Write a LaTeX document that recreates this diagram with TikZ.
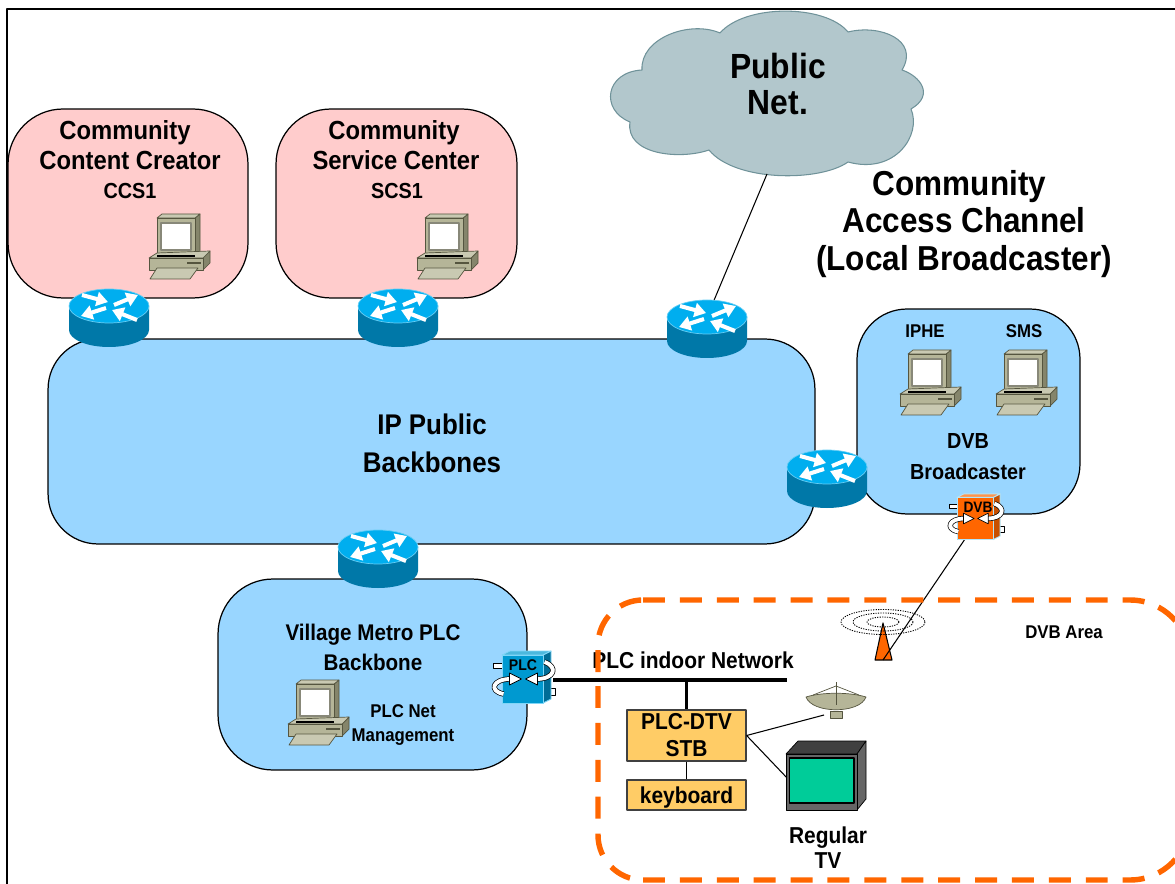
\documentclass[tikz,border=0pt]{standalone}
\usepackage{fontspec}
\setmainfont[FakeStretch=0.91]{Liberation Sans}
\usetikzlibrary{arrows.meta}
\definecolor{pinkblob}{HTML}{FFCCCC}
\definecolor{blueblob}{HTML}{99D6FF}
\definecolor{cloudgrey}{HTML}{B2C7CC}
\definecolor{cloudline}{HTML}{6F9299}
\definecolor{routertop}{HTML}{00AEEF}
\definecolor{routerside}{HTML}{0078A8}
\definecolor{pcbody}{HTML}{B5B598}
\definecolor{pcdark}{HTML}{85856B}
\definecolor{pclight}{HTML}{C9C9B2}
\definecolor{pcline}{HTML}{55553F}
\definecolor{dvborange}{HTML}{FF6600}
\definecolor{dvbside}{HTML}{C85000}
\definecolor{plcblue}{HTML}{0099D0}
\definecolor{plcside}{HTML}{006C96}
\definecolor{stbfill}{HTML}{FFCC66}
\definecolor{tvgreen}{HTML}{00CC99}
\tikzset{
	lbl/.style 2 args={font=\fontsize{#1}{#2}\selectfont\bfseries,align=center,inner sep=0pt},
	blob/.style={draw=black,line width=0.7pt,inner sep=0pt},
	stbbox/.style={draw=black!75,fill=stbfill,line width=0.7pt,minimum width=2.38cm,inner sep=0pt},
	areadash/.style={dvborange,line width=3.1pt,dash pattern=on 12.5pt off 8.5pt},
	pics/router/.style={code={
		\fill[routerside] (-40,0)--(-40,24) arc[start angle=180,end angle=0,x radius=40,y radius=17]--(40,0)--cycle;
		\draw[fill=routertop,draw=routertop!60!white,line width=0.4pt] (0,0) ellipse [x radius=40,y radius=17];
		\foreach \xa/\ya/\xb/\yb in {-27/-11/-1/-4,5/-1/29/-11,-3/2/-28/10,28/14/3/4}
			\draw[white,line width=2.3pt,-{Triangle[width=8pt,length=6.5pt]}] (\xa,\ya)--(\xb,\yb);
	}},
	pics/computer/.style={code={
		\draw[pcline,fill=pcdark,line width=0.4pt] (38,0)--(43,-4)--(43,34)--(38,37)--cycle;
		\draw[pcline,fill=pclight,line width=0.4pt] (0,0)--(5,-4)--(43,-4)--(38,0)--cycle;
		\draw[pcline,fill=pcbody,line width=0.4pt] (0,0) rectangle (38,37);
		\draw[pcline!70,fill=white,line width=0.6pt] (4,5) rectangle (34,32);
		\draw[pcline,fill=pcdark,line width=0.4pt] (46,40)--(53,33)--(53,45)--(46,52)--cycle;
		\draw[pcline,fill=pclight,line width=0.4pt] (-8,40)--(0,35)--(53,33)--(46,40)--cycle;
		\draw[black,line width=0.8pt] (0,38)--(38,38);
		\draw[pcline,fill=pcbody,line width=0.4pt] (-8,40) rectangle (46,52);
		\draw[pcline,line width=0.6pt] (30,45)--(44,45);
		\draw[pcline,fill=pclight,line width=0.4pt] (0,50)--(41,50)--(33,61)--(-7,61)--cycle;
	}},
	pics/switchbox/.style n args={3}{code={
		\draw[black,fill=white,line width=0.4pt] (-29,-16) rectangle (-20,-11);
		\draw[black,fill=white,line width=0.4pt] (28,9) rectangle (33,16);
		\draw[#3,fill=#2,line width=0.5pt] (20.5,-24)--(28.5,-28)--(28.5,20)--(20.5,24)--cycle;
		\draw[#3,fill=#1!70!white,line width=0.5pt] (-20.5,-24)--(-12.5,-28)--(28.5,-28)--(20.5,-24)--cycle;
		\draw[#3,fill=#1,line width=0.5pt] (-20.5,-24) rectangle (20.5,24);
		\draw[double=white,double distance=2.2pt,line width=0.4pt] (-12,0) .. controls (-30,0) and (-34,12) .. (-19,15);
		\draw[double=white,double distance=2.2pt,line width=0.4pt] (14,0) .. controls (32,0) and (36,-12) .. (22,-17);
		\draw[black,fill=white,line width=0.4pt] (-1,0)--(-13,-6)--(-13,6)--cycle;
		\draw[black,fill=white,line width=0.4pt] (3,0)--(15,-6)--(15,6)--cycle;
	}},
}
\begin{document}
\begin{tikzpicture}[x=0.02cm,y=-0.02cm,line join=round]
	\useasboundingbox (0,0) rectangle (1175,884);
	% frame
	\draw[line width=0.9pt] (7,884)--(7,9)--(1175,9);
	% cloud
	\draw[cloudline,fill=cloudgrey,line width=0.6pt] (642,70) .. controls (640,38) and (690,20) .. (720,33)
		.. controls (745,4) and (825,4) .. (848,32)
		.. controls (880,24) and (920,40) .. (902,70)
		.. controls (920,76) and (935,95) .. (911,109)
		.. controls (922,135) and (895,175) .. (848,162)
		.. controls (820,182) and (735,182) .. (709,150)
		.. controls (680,160) and (625,155) .. (630,122)
		.. controls (600,110) and (605,72) .. (642,70) -- cycle;
	\node[lbl={19.9}{21}] (pubnet) at (778,84) {Public\\Net.};
	\coordinate (cloudfoot) at (767,174);
	% blobs
	\node[blob,fill=pinkblob,rounded corners=1.1cm,minimum width=4.8cm,minimum height=3.78cm] (ccc) at (128,203.5) {};
	\node[blob,fill=pinkblob,rounded corners=1.1cm,minimum width=4.82cm,minimum height=3.78cm] (scc) at (396.5,203.5) {};
	\node[blob,fill=blueblob,rounded corners=1cm,minimum width=15.34cm,minimum height=4.1cm] (backbone) at (431.5,441.5) {};
	\node[blob,fill=blueblob,rounded corners=1cm,minimum width=4.46cm,minimum height=4.1cm] (dvbcast) at (968.5,411.5) {};
	\node[blob,fill=blueblob,rounded corners=1.1cm,minimum width=6.18cm,minimum height=3.82cm] (village) at (372.5,674.5) {};
	% routers
	\coordinate (rpub) at (707,317);
	\draw[line width=0.6pt] (cloudfoot)--(rpub);
	\pic at (109,306) {router};
	\pic at (398,306) {router};
	\pic at (707,317) {router};
	\pic at (827,467) {router};
	\pic at (378,547) {router};
	% computers
	\pic at (157,218) {computer};
	\pic at (425,218) {computer};
	\pic at (908,354) {computer};
	\pic at (1004,354) {computer};
	\pic at (296,684) {computer};
	% texts
	\node[lbl={14.9}{17}] (ccctxt) at (130,145) {\hspace*{-5.7pt}Community\\Content Creator};
	\node[lbl={12.4}{14}] (ccs) at (130,191) {CCS1};
	\node[lbl={14.9}{17}] (scctxt) at (396,145) {\hspace*{-2.3pt}Community\\Service Center};
	\node[lbl={12.4}{14}] (scs) at (397,191) {SCS1};
	\node[lbl={19.7}{21.5}] (acc) at (964,224) {\hspace*{-5.1pt}Community\\Access Channel\\(Local Broadcaster)};
	\node[lbl={16.2}{21.5}] (ippub) at (432,443) {IP Public\\Backbones};
	\node[lbl={10.5}{12}] (iphe) at (925,331) {IPHE};
	\node[lbl={10.5}{12}] (sms) at (1024,331) {SMS};
	\node[lbl={12.4}{17.6}] (dvbtxt) at (968,457) {DVB\\Broadcaster};
	\node[lbl={12.9}{17}] (vill) at (373,647) {Village Metro PLC\\Backbone};
	\node[lbl={10.5}{14.2}] (plcnet) at (403,725) {PLC Net\\Management};
	\node[lbl={10.5}{12}] (dvbarea) at (1064,632) {DVB Area};
	\node[lbl={13.1}{14}] (indoor) at (693,660) {PLC indoor Network};
	\node[lbl={13.1}{14.2}] (regtv) at (828,848) {Regular\\TV};
	% antenna and link
	\draw[black,fill=dvborange,line width=0.6pt] (883,623)--(892,660)--(875,660)--cycle;
	\foreach \rx/\ry in {42/12.5,30/9,16/5}
		\draw[line width=0.5pt,dash pattern=on 0.7pt off 0.7pt] (883,622) ellipse [x radius=\rx,y radius=\ry];
	\coordinate (antfoot) at (883,660);
	\coordinate (dvbfoot) at (965,539);
	\draw[line width=0.6pt] (dvbfoot)--(antfoot);
	% switches
	\pic[scale=0.88] at (975,518.5) {switchbox={dvborange}{dvbside}{cyan!30}};
	\node[lbl={8.6}{9}] (dvblab) at (978,507) {DVB};
	\pic at (522.5,679) {switchbox={plcblue}{plcside}{cyan!50}};
	\node[lbl={8.8}{9}] (plclab) at (523,665) {PLC};
	% home network
	\node[stbbox,minimum height=1.02cm,lbl={13.1}{15.3}] (stb) at (686.5,735.5) {PLC-DTV\\STB};
	\node[stbbox,minimum height=0.6cm,lbl={13.1}{14}] (kbd) at (686.5,795) {\raisebox{-1.6pt}[\height][\depth]{keyboard}};
	\draw[line width=0.5pt] (stb)--(kbd);
	\coordinate (busl) at (553,680);
	\coordinate (busr) at (787,680);
	\coordinate (busdrop) at (686.5,680);
	\draw[line width=2.2pt] (busl)--(busr);
	\draw[line width=2.2pt] (busdrop)--(stb.north);
	% dish
	\coordinate (dishin) at (824,715);
	\coordinate (tvin) at (789,780);
	\draw[line width=0.6pt] (stb.east)--(dishin);
	\draw[line width=0.6pt] (stb.east)--(tvin);
	\draw[pcline,fill=pcbody,line width=0.4pt] (830,711) rectangle (842,718);
	\draw[pcline,fill=pcbody,line width=0.4pt] (806,697) .. controls (812,714) and (860,714) .. (866,697) .. controls (850,692) and (822,692) .. (806,697) -- cycle;
	\draw[pcline,line width=0.5pt] (836,682)--(836,705);
	\draw[pcline,line width=0.4pt] (813,695)--(836,686)--(859,695);
	% tv
	\draw[black,fill=black!75,line width=0.4pt] (786,754)--(798,741)--(866,741)--(857,754)--cycle;
	\draw[black,fill=black!60,line width=0.4pt] (857,754)--(866,741)--(866,799)--(857,810)--cycle;
	\draw[black,fill=black!60,line width=0.4pt] (786,754) rectangle (857,810);
	\draw[black,fill=tvgreen,line width=0.7pt] (789.5,758) rectangle (854,803);
	% dashed area
	\draw[areadash] (598,672)--(598,645) arc[start angle=180,end angle=270,radius=45];
	\draw[areadash] (598,686)--(598,835) arc[start angle=180,end angle=90,radius=45];
	\draw[areadash] (643,600)--(1130,600) arc[start angle=270,end angle=360,radius=60];
	\draw[areadash] (643,880)--(1130,880) arc[start angle=90,end angle=0,radius=60];
\end{tikzpicture}
\end{document}
